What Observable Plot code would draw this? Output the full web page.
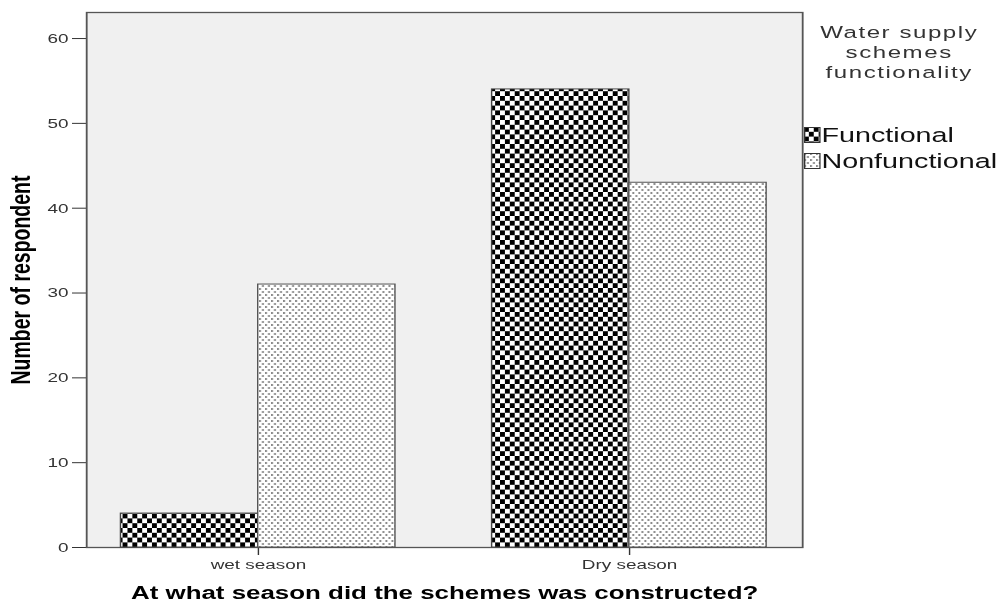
<!DOCTYPE html>
<html>
<head>
<meta charset="utf-8">
<script src="https://cdn.jsdelivr.net/npm/d3@7"></script>
<script src="https://cdn.jsdelivr.net/npm/@observablehq/plot@0.6"></script>
<style>
  html, body { margin: 0; padding: 0; background: #fff; overflow: hidden; }
  #wrap { position: absolute; left: 0; top: 0; width: 714px; height: 605px; transform: scaleX(1.4006); transform-origin: 0 0; }
  #legend { position: absolute; left: 0; top: 0; font-family: "Liberation Sans", Arial, sans-serif; }
  #legend .tline { position: absolute; left: 536px; width: 212px; height: 19.8px; text-align: center; font-size: 17.2px; line-height: 19.8px; letter-spacing: 1.1px; color: #333; white-space: nowrap; }
  #legend .item { position: absolute; left: 574px; height: 22px; display: flex; align-items: center; font-size: 20.5px; color: #111; white-space: nowrap; }
  #legend .item svg { margin-right: 0.5px; }
</style>
</head>
<body>
<svg width="0" height="0" style="position:absolute">
  <defs>
    <pattern id="checker" patternUnits="userSpaceOnUse" width="7" height="9.6">
      <rect x="0" y="0" width="7" height="9.6" fill="#fff"/>
      <rect x="0" y="0" width="3.5" height="4.8" fill="#000"/>
      <rect x="3.5" y="4.8" width="3.5" height="4.8" fill="#000"/>
    </pattern>
    <pattern id="dots" patternUnits="userSpaceOnUse" width="4.3" height="6">
      <rect x="0" y="0" width="4.3" height="6" fill="#fff"/>
      <rect x="0" y="0" width="1.4" height="2" fill="#8a8a8a"/>
      <rect x="2.15" y="3" width="1.4" height="2" fill="#8a8a8a"/>
    </pattern>
  </defs>
</svg>
<div id="wrap">
  <div id="chart"></div>
  <div id="legend"></div>
</div>
<script>
// ---- data ----
const seasons = ["wet season", "Dry season"];
const statuses = ["Functional", "Nonfunctional"];
const functionalCounts = [4, 54];
const nonfunctionalCounts = [31, 43];
const yTicks = [0, 10, 20, 30, 40, 50, 60];
const xTitle = "At what season did the schemes was constructed?";
const yTitle = "Number of respondent";
const legendTitle = ["Water supply", "schemes", "functionality"];
const patterns = {"Functional": "url(#checker)", "Nonfunctional": "url(#dots)"};

const rows = [];
seasons.forEach((s, i) => {
  rows.push({season: s, status: statuses[0], count: functionalCounts[i]});
  rows.push({season: s, status: statuses[1], count: nonfunctionalCounts[i]});
});

const W = 714, H = 605;
const base = {
  width: W,
  height: H,
  marginLeft: 61.4,
  marginRight: 141.4,
  marginTop: 12,
  marginBottom: 58,
  style: {fontFamily: "'Liberation Sans', Arial, sans-serif", fontSize: "13.5px", color: "#333", background: "transparent", overflow: "visible"},
  x: {type: "band", domain: seasons, paddingInner: 0.26, paddingOuter: 0.094, tickSize: 8, tickPadding: 4, label: null},
  y: {domain: [0, 63.07], ticks: yTicks, tickSize: 10, tickPadding: 3, label: null}
};

// probe the band scale to get its bandwidth
const probe = Plot.plot({...base, marks: [Plot.frame()]});
const bw = probe.scale("x").bandwidth;

const chart = Plot.plot({
  ...base,
  marks: [
    Plot.frame({fill: "#f0f0f0", stroke: "#555", strokeWidth: 1.3}),
    Plot.barY(rows.filter(d => d.status === "Functional"), {
      x: "season", y: "count", fill: patterns.Functional, stroke: "#444", strokeWidth: 1,
      insetLeft: 0, insetRight: bw / 2
    }),
    Plot.barY(rows.filter(d => d.status === "Nonfunctional"), {
      x: "season", y: "count", fill: patterns.Nonfunctional, stroke: "#555", strokeWidth: 1,
      insetLeft: bw / 2, insetRight: 0
    }),
    Plot.text([xTitle], {text: d => d, frameAnchor: "bottom", dy: 46, textAnchor: "middle", lineAnchor: "middle", fontWeight: "bold", fontSize: 18.5, fill: "#000"}),
    Plot.text([yTitle], {text: d => d, frameAnchor: "left", dx: -47, rotate: -90, textAnchor: "middle", lineAnchor: "middle", fontWeight: "bold", fontSize: 19.5, fill: "#000"})
  ]
});
document.getElementById("chart").appendChild(chart);

// ---- legend ----
const legend = document.getElementById("legend");
legendTitle.forEach((line, i) => {
  const d = document.createElement("div");
  d.className = "tline";
  d.style.top = (23 + i * 19.8) + "px";
  d.textContent = line;
  legend.appendChild(d);
});
const itemTops = [124, 150];
statuses.forEach((s, i) => {
  const it = document.createElement("div");
  it.className = "item";
  it.style.top = itemTops[i] + "px";
  it.innerHTML = `<svg width="12" height="16"><rect x="0.5" y="0.5" width="11" height="15" fill="${patterns[s]}" stroke="#333" stroke-width="1"/></svg><span>${s}</span>`;
  legend.appendChild(it);
});
</script>
</body>
</html>
